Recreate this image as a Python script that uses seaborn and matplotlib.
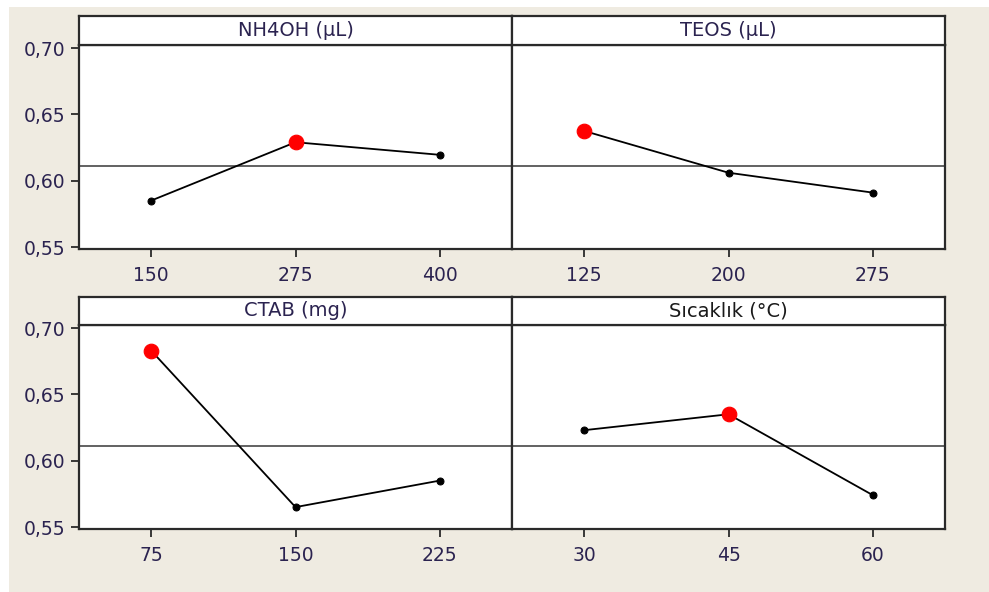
import matplotlib
matplotlib.use("Agg")
import matplotlib.pyplot as plt
import matplotlib.patches as patches
import matplotlib.ticker as mticker
import seaborn as sns

# Main effects for means
factor_names = ["NH4OH (µL)", "TEOS (µL)", "CTAB (mg)", "Sıcaklık (°C)"]
nh4oh_levels = ["150", "275", "400"]
nh4oh_means = [0.585, 0.629, 0.6195]
teos_levels = ["125", "200", "275"]
teos_means = [0.6375, 0.606, 0.591]
ctab_levels = ["75", "150", "225"]
ctab_means = [0.683, 0.565, 0.585]
temp_levels = ["30", "45", "60"]
temp_means = [0.623, 0.635, 0.574]
grand_mean = 0.611
y_ticks = [0.55, 0.60, 0.65, 0.70]

panels = [
    (factor_names[0], nh4oh_levels, nh4oh_means),
    (factor_names[1], teos_levels, teos_means),
    (factor_names[2], ctab_levels, ctab_means),
    (factor_names[3], temp_levels, temp_means),
]

sns.set_style("white")
plt.rcParams['font.family'] = ['DejaVu Sans']

W, H = 989, 592
fig = plt.figure(figsize=(W / 100, H / 100), dpi=100)
fig.patch.set_facecolor("white")
fig.patches.append(patches.Rectangle((9 / W, 0), 1 - 9 / W, 1 - 7 / H,
                                     transform=fig.transFigure, facecolor="#efebe1",
                                     edgecolor="none", zorder=-10))

frame_col = "#2a2a2a"
text_col = "#2b2350"

# pixel layout: columns and rows (top of strip, bottom of strip, bottom of axes)
cols = [(79, 512), (512, 945)]
rows = [(16, 45, 249), (297, 325, 529)]

for i, (name, levels, means) in enumerate(panels):
    r, c = divmod(i, 2)
    x0, x1 = cols[c]
    st, sb, ab = rows[r]
    ax = fig.add_axes([x0 / W, 1 - ab / H, (x1 - x0) / W, (ab - sb) / H])
    sax = fig.add_axes([x0 / W, 1 - sb / H, (x1 - x0) / W, (sb - st) / H])

    pos = list(range(len(levels)))
    ax.axhline(grand_mean, color="#555555", lw=1.3, zorder=1)
    sns.lineplot(x=pos, y=means, ax=ax, color="black", lw=1.3, marker="o",
                 markersize=5, markeredgecolor="black", zorder=3)
    best = means.index(max(means))
    sns.scatterplot(x=[pos[best]], y=[means[best]], ax=ax, color="#ff0000",
                    s=110, edgecolor="#ff0000", zorder=4)

    ax.set_xlim(-0.5, len(levels) - 0.5)
    ax.set_ylim(0.5485, 0.7023)
    ax.set_xticks(pos)
    ax.set_xticklabels(levels)
    ax.set_yticks(y_ticks)
    ax.yaxis.set_major_formatter(mticker.FuncFormatter(lambda v, p: f"{v:.2f}".replace(".", ",")))
    ax.tick_params(axis="x", direction="out", length=6, width=1.3, color=frame_col,
                   labelsize=13.5, labelcolor=text_col, pad=6, bottom=True)
    if c == 0:
        ax.tick_params(axis="y", direction="out", length=6, width=1.3, color=frame_col,
                       labelsize=13.5, labelcolor=text_col, pad=4, left=True)
    else:
        ax.tick_params(axis="y", left=False, labelleft=False)
    ax.set_facecolor("white")
    for sp in ax.spines.values():
        sp.set_visible(True)
        sp.set_color(frame_col)
        sp.set_linewidth(1.6)
    ax.set_xlabel("")
    ax.set_ylabel("")

    sax.set_facecolor("white")
    sax.set_xticks([])
    sax.set_yticks([])
    for sp in sax.spines.values():
        sp.set_visible(True)
        sp.set_color(frame_col)
        sp.set_linewidth(1.6)
    sax.text(0.5, 0.5, name, ha="center", va="center", fontsize=14,
             color=text_col if i < 3 else "#1a1a1a", transform=sax.transAxes)

fig.savefig("out.png", dpi=100, facecolor=fig.get_facecolor())
